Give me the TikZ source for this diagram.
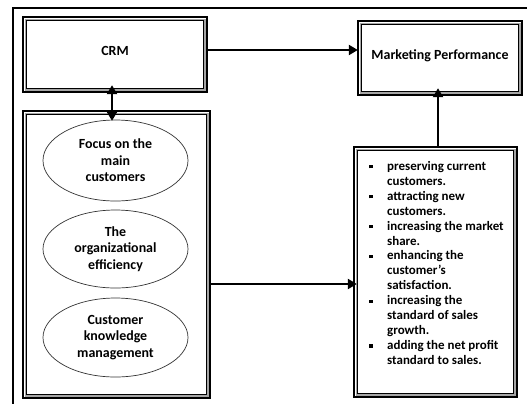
\documentclass[tikz,border=0pt]{standalone}
\usepackage{fontspec}
\setmainfont{Carlito}
\usetikzlibrary{arrows.meta,shapes.geometric}
\newcommand\tripleframe[1]{%
  \draw[line width=2.2bp] (#1.north west) rectangle (#1.south east);
  \draw[gray!70, line width=1.4bp] ([shift={(2.4,2.4)}]#1.north west) rectangle ([shift={(-2.4,-2.4)}]#1.south east);
  \draw[line width=0.8bp] ([shift={(3.8,3.8)}]#1.north west) rectangle ([shift={(-3.8,-3.8)}]#1.south east);
}
\newcommand\sqb{\makebox[18bp][l]{\rule[0.3ex]{3.4bp}{3.4bp}}}
\newcommand\ind{\hspace*{18bp}}
\begin{document}
\begin{tikzpicture}[x=1bp,y=-1bp,
  boxn/.style={draw=none, inner sep=0pt, minimum width=#1},
  lbl/.style={font=\bfseries\fontsize{14}{16.5}\selectfont, align=center},
  ell/.style={ellipse, draw=black!80, line width=0.7bp, inner sep=0pt, minimum width=145bp, minimum height=#1},
  arr/.style={line width=2.2bp, -{Triangle[length=9bp,width=10bp]}},
  darr/.style={line width=2.2bp, {Triangle[length=9bp,width=10bp]}-{Triangle[length=9bp,width=10bp]}}]
\useasboundingbox (0,0) rectangle (527,403);
\clip (0,0) rectangle (527,403);
\fill[white] (0,0) rectangle (527,403);
\draw[line width=2bp] (13,8) rectangle (545,420);
% boxes
\node[boxn=184bp, minimum height=75bp] (crm) at (115,54.5) {};
\node[boxn=164bp, minimum height=74bp] (mp) at (440,58) {};
\node[boxn=187bp, minimum height=287bp] (left) at (116.5,254.5) {};
\node[boxn=163bp, minimum height=250bp] (right) at (435.5,272) {};
\tripleframe{crm}
\tripleframe{mp}
\tripleframe{left}
\tripleframe{right}
\node[lbl] (crmt) at (115,51) {CRM};
\node[lbl] (mpt) at (440,56) {Marketing Performance};
% ellipses
\node[ell=81bp, lbl] (e1) at (115.5,160.5) {Focus on the\\main\\customers};
\node[ell=78bp, lbl] (e2) at (115.5,249) {The\\organizational\\efficiency};
\node[ell=79bp, lbl] (e3) at (115.5,337.5) {Customer\\knowledge\\management};
% list
\node[anchor=north west, inner sep=0pt, align=left, font=\bfseries\fontsize{13}{15}\selectfont] (list) at (369,161) {%
\sqb preserving current\\
\ind customers.\\
\sqb attracting new\\
\ind customers.\\
\sqb increasing the market\\
\ind share.\\
\sqb enhancing the\\
\ind customer's\\
\ind satisfaction.\\
\sqb increasing the\\
\ind standard of sales\\
\ind growth.\\
\sqb adding the net profit\\
\ind standard to sales.};
% connectors
\coordinate (a1) at (0,50);
\coordinate (a2) at (112,0);
\coordinate (a3) at (0,284);
\coordinate (a4) at (438,0);
\draw[arr] (crm.east |- a1) -- (mp.west |- a1);
\draw[darr] ([yshift=7bp]crm.south -| a2) -- ([yshift=-10bp]left.north -| a2);
\draw[arr] (left.east |- a3) -- ([xshift=3bp]right.west |- a3);
\draw[arr] (right.north -| a4) -- ([yshift=7bp]mp.south -| a4);
\end{tikzpicture}
\end{document}
